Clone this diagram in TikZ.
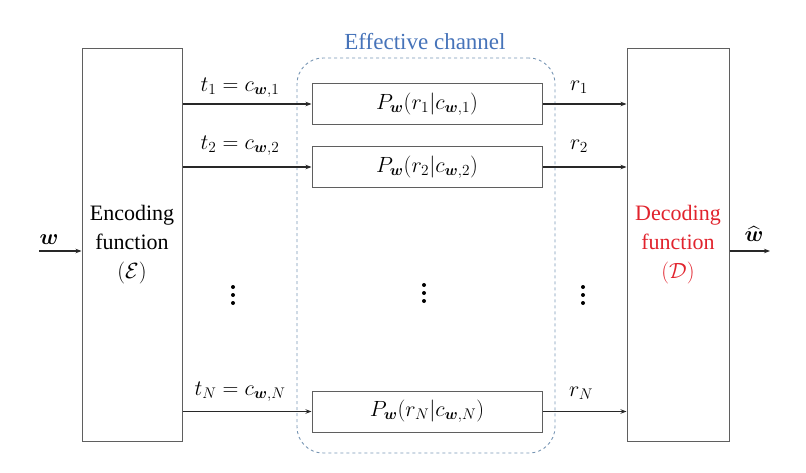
\RequirePackage{fix-cm}
\documentclass[tikz,border=0pt]{standalone}
\usepackage{amsmath}
\usepackage{fontspec}
\setmainfont{Liberation Serif}
\usetikzlibrary{arrows.meta}
\definecolor{boxgray}{RGB}{95,95,95}
\definecolor{linegray}{RGB}{40,40,40}
\definecolor{dashblue}{RGB}{120,150,180}
\definecolor{effblue}{RGB}{70,115,185}
\definecolor{decred}{RGB}{225,35,45}
\newcommand{\bw}{\boldsymbol{w}}
\tikzset{
  blockbox/.style={draw=boxgray, line width=1pt, minimum width=100pt, minimum height=392pt, align=center, inner sep=0pt},
  chanbox/.style={draw=boxgray, line width=1pt, minimum width=230pt, minimum height=41pt, inner sep=0pt},
  arr/.style={draw=linegray, line width=1.2pt, -{Stealth[length=6pt,width=4.5pt]}},
  lbl/.style={inner sep=0pt},
  bigtext/.style={font=\fontsize{22}{29}\selectfont},
  vdotsdot/.style={fill=black, draw=none},
}
\begin{document}
\begin{tikzpicture}[x=1pt,y=-1pt]
\useasboundingbox (0,0) rectangle (806,473);
% effective channel container
\node[draw=dashblue, dashed, line width=0.9pt, rounded corners=26pt, minimum width=258pt, minimum height=395pt, inner sep=0pt] (eff) at (426,255.5) {};
\node[lbl, text=effblue, font=\fontsize{23}{27}\selectfont] (efflbl) at (425,42) {Effective channel};
% encoder and decoder
\node[blockbox, bigtext] (enc) at (132,245) {Encoding\\function\\$(\mathcal{E})$};
\node[blockbox, minimum width=102pt, bigtext, text=decred] (dec) at (678,245) {Decoding\\function\\$(\mathcal{D})$};
% channel boxes
\node[chanbox, bigtext] (c1) at (427,104) {$P_{\bw}(r_1|c_{\bw,1})$};
\node[chanbox, bigtext] (c2) at (427,167) {$P_{\bw}(r_2|c_{\bw,2})$};
\node[chanbox, bigtext] (cN) at (427,411.5) {$P_{\bw}(r_N|c_{\bw,N})$};
% connectors encoder -> channels
\draw[arr] (enc.east |- c1) -- (c1.west);
\draw[arr] (enc.east |- c2) -- (c2.west);
\draw[arr] (enc.east |- cN) -- (cN.west);
% connectors channels -> decoder
\draw[arr] (c1.east) -- (dec.west |- c1);
\draw[arr] (c2.east) -- (dec.west |- c2);
\draw[arr] (cN.east) -- (dec.west |- cN);
% labels
\node[lbl, bigtext] (t1) at (240,88) {$t_1 = c_{\bw,1}$};
\node[lbl, bigtext] (t2) at (240,146) {$t_2 = c_{\bw,2}$};
\node[lbl, bigtext] (tN) at (240,392) {$t_N = c_{\bw,N}$};
\node[lbl, bigtext] (r1) at (579,87) {$r_1$};
\node[lbl, bigtext] (r2) at (579,146) {$r_2$};
\node[lbl, bigtext] (rN) at (581,393) {$r_N$};
% vertical dots
\foreach \px/\py in {233/295, 424/293, 583/295} {
  \fill[vdotsdot] (\px,\py-8) circle (2pt);
  \fill[vdotsdot] (\px,\py) circle (2pt);
  \fill[vdotsdot] (\px,\py+8) circle (2pt);
}
% input and output
\coordinate (win) at (39,251);
\coordinate (wout) at (770,251);
\draw[arr] (win) -- (enc.west |- win);
\draw[arr] (dec.east |- wout) -- (wout);
\node[lbl, bigtext] (wlbl) at (49,240) {$\bw$};
\node[lbl, bigtext] (whlbl) at (754,234) {$\widehat{\bw}$};
\end{tikzpicture}
\end{document}
